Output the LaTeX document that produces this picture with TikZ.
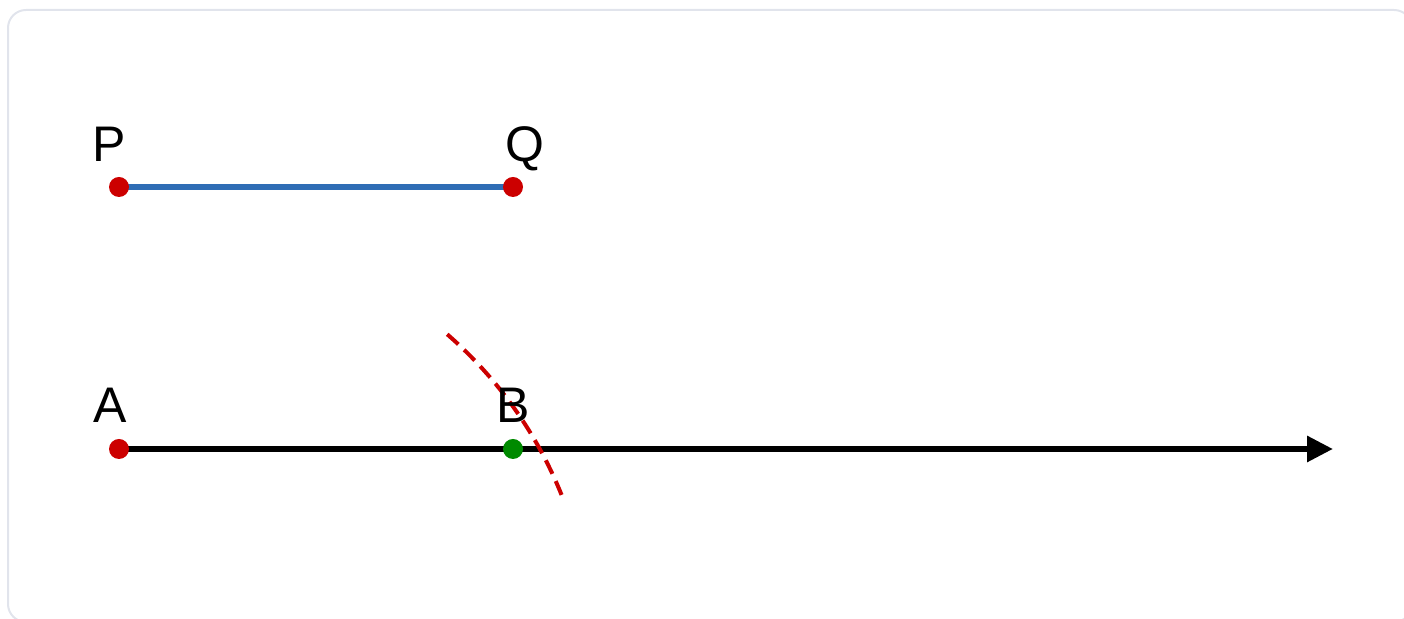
\documentclass[tikz,border=0pt]{standalone}
\usepackage{fontspec}
\setmainfont{Liberation Sans}
\usetikzlibrary{arrows.meta}
\definecolor{framegray}{HTML}{E1E4EC}
\definecolor{segblue}{HTML}{2F6DB5}
\definecolor{ptred}{HTML}{CC0000}
\definecolor{ptgreen}{HTML}{008A00}
\tikzset{
    % Outer frame
    frame/.style={
        draw=framegray,
        line width=1pt,
        rounded corners=9pt
    },
    % Given segment
    segment/.style={
        draw=segblue,
        line width=3pt
    },
    % Number line / ray
    ray/.style={
        draw=black,
        line width=3pt,
        -{Triangle[length=13pt,width=12.5pt]}
    },
    % Compass arc
    compassarc/.style={
        draw=ptred,
        line width=2pt,
        dash pattern=on 7.5pt off 4pt
    },
    % Points
    redpoint/.style={
        circle,
        fill=ptred,
        inner sep=0pt,
        minimum size=10pt
    },
    greenpoint/.style={
        circle,
        fill=ptgreen,
        inner sep=0pt,
        minimum size=10pt
    },
    % Point labels
    ptlabel/.style={
        anchor=base,
        inner sep=0pt,
        font=\fontsize{25}{30}\selectfont
    }
}

\begin{document}
\begin{tikzpicture}[x=0.5pt,y=0.5pt]

\useasboundingbox (0,0) rectangle (1404,619);

% === FRAME ===
\draw[frame] (8,-3) rectangle (1412,609);

% === POINTS ===
\coordinate (P) at (119,432);
\coordinate (Q) at (513,432);
\coordinate (A) at (119,170);
\coordinate (B) at (513,170);
\coordinate (rayend) at (1333,170);
\coordinate (arcstart) at (447.2,284.7);

% === SEGMENT PQ AND RAY ===
\draw[segment] (P) -- (Q);
\draw[ray] (A) -- (rayend);

% Compass arc
\draw[compassarc] (arcstart) arc[start angle=49, end angle=21.5, radius=210.5pt];

% Dots
\node[redpoint] (Pdot) at (P) {};
\node[redpoint] (Qdot) at (Q) {};
\node[redpoint] (Adot) at (A) {};
\node[greenpoint] (Bdot) at (B) {};

% === LABELS ===
\node[ptlabel] (Plabel) at (109,457) {P};
\node[ptlabel] (Qlabel) at (525,457) {Q};
\node[ptlabel] (Alabel) at (110,196) {A};
\node[ptlabel] (Blabel) at (513,196) {B};

\end{tikzpicture}
\end{document}
